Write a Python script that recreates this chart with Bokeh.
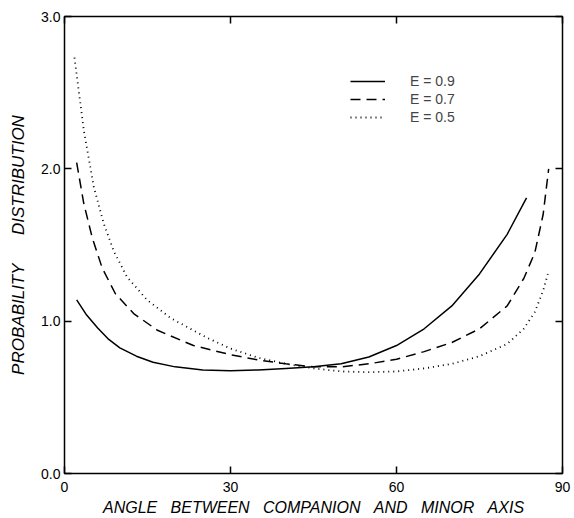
from bokeh.plotting import figure
from bokeh.models import Range1d, LinearAxis, FixedTicker, Legend, LegendItem
from bokeh.embed import file_html
from bokeh.resources import INLINE

# E = 0.9 (solid)
angle_e09 = [2.2, 4, 6, 8, 10, 13, 16, 20, 25, 30, 35, 40, 45, 50, 55, 60, 65, 70, 75, 80, 83.5]
prob_e09 = [1.14, 1.04, 0.955, 0.88, 0.825, 0.77, 0.73, 0.70, 0.68, 0.675, 0.68, 0.69, 0.70, 0.72, 0.765, 0.84, 0.95, 1.10, 1.31, 1.57, 1.81]

# E = 0.7 (dashed)
angle_e07 = [2.2, 3.5, 5, 6.8, 9.2, 12.5, 16.8, 23.3, 30, 35, 40, 45, 50, 55, 60, 65, 70, 75, 80, 83, 85, 86.5, 87.5]
prob_e07 = [2.04, 1.77, 1.55, 1.35, 1.18, 1.05, 0.94, 0.84, 0.78, 0.745, 0.72, 0.70, 0.70, 0.72, 0.75, 0.80, 0.86, 0.95, 1.10, 1.28, 1.45, 1.70, 2.0]

# E = 0.5 (dotted)
angle_e05 = [1.8, 3.5, 5.3, 7.1, 8.9, 11.3, 14.9, 19.2, 25.8, 30, 35, 40, 45, 50, 55, 60, 65, 70, 75, 80, 83, 85, 86.5, 87.5]
prob_e05 = [2.73, 2.25, 1.88, 1.64, 1.46, 1.29, 1.14, 1.02, 0.89, 0.82, 0.76, 0.72, 0.69, 0.67, 0.665, 0.67, 0.69, 0.72, 0.77, 0.85, 0.95, 1.06, 1.2, 1.33]

x_ticks = [0, 30, 60, 90]
y_ticks = [0, 1, 2, 3]
y_tick_labels = ["0.0", "1.0", "2.0", "3.0"]
legend_labels = ["E = 0.9", "E = 0.7", "E = 0.5"]
GAP = "\u00a0\u00a0\u00a0"
x_title = GAP.join(["ANGLE", "BETWEEN", "COMPANION", "AND", "MINOR", "AXIS"])
y_title = "\u00a0\u00a0\u00a0\u00a0\u00a0\u00a0".join(["PROBABILITY", "DISTRIBUTION"])

FONT = "Liberation Sans"

p = figure(width=574, height=518, output_backend="svg", toolbar_location=None,
           x_range=Range1d(0, 90), y_range=Range1d(0, 3),
           x_axis_location=None, y_axis_location=None,
           min_border_left=64, min_border_right=12,
           min_border_top=16, min_border_bottom=45)
p.grid.visible = False
p.outline_line_color = "black"
p.outline_line_width = 1.5
p.background_fill_color = "white"
p.border_fill_color = "white"

def style_axis(ax, show_labels):
    ax.major_tick_in = 7
    ax.major_tick_out = 0
    ax.minor_tick_line_color = None
    ax.axis_line_color = None
    ax.major_tick_line_color = "black"
    ax.major_tick_line_width = 1.5
    ax.major_label_text_font = FONT
    if show_labels:
        ax.major_label_text_font_size = "14px"
        ax.major_label_text_color = "black"
    else:
        ax.major_label_text_font_size = "1px"
        ax.major_label_text_color = None
        ax.major_label_standoff = 0

xb = LinearAxis(ticker=FixedTicker(ticks=x_ticks))
style_axis(xb, True)
xb.major_label_standoff = 8
xb.axis_label = x_title
xb.axis_label_text_font = FONT
xb.axis_label_text_font_style = "italic"
xb.axis_label_text_font_size = "16px"
xb.axis_label_text_color = "black"
xb.axis_label_standoff = 4
p.add_layout(xb, "below")

yl = LinearAxis(ticker=FixedTicker(ticks=y_ticks),
                major_label_overrides={t: s for t, s in zip(y_ticks, y_tick_labels)})
style_axis(yl, True)
yl.major_label_standoff = 4
yl.axis_label = y_title
yl.axis_label_text_font = FONT
yl.axis_label_text_font_style = "italic"
yl.axis_label_text_font_size = "17px"
yl.axis_label_text_color = "black"
yl.axis_label_standoff = 10
p.add_layout(yl, "left")

xt = LinearAxis(ticker=FixedTicker(ticks=x_ticks))
style_axis(xt, False)
p.add_layout(xt, "above")
yr = LinearAxis(ticker=FixedTicker(ticks=y_ticks))
style_axis(yr, False)
p.add_layout(yr, "right")

r1 = p.line(angle_e09, prob_e09, line_color="black", line_width=1.5, line_join="round")
r2 = p.line(angle_e07, prob_e07, line_color="black", line_width=1.5, line_dash="10 6")
r3 = p.line(angle_e05, prob_e05, line_color="black", line_width=1.8, line_dash="1 4")

legend = Legend(items=[LegendItem(label=legend_labels[0], renderers=[r1]),
                       LegendItem(label=legend_labels[1], renderers=[r2]),
                       LegendItem(label=legend_labels[2], renderers=[r3])],
                location=(286, 347), orientation="vertical",
                glyph_width=35, glyph_height=18, label_height=18,
                label_standoff=25, spacing=0, padding=0, margin=0,
                border_line_color=None, background_fill_alpha=0,
                label_text_font=FONT, label_text_font_size="14px")
p.add_layout(legend, "center")

open("out.html", "w").write(file_html(p, INLINE))
